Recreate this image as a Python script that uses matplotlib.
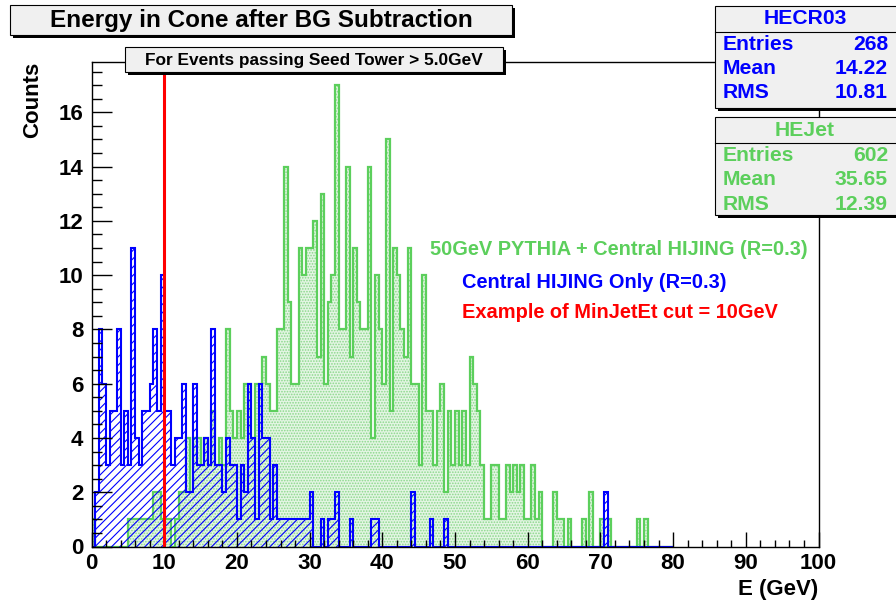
import numpy as np
import matplotlib

matplotlib.use("Agg")

import matplotlib.pyplot as plt
from matplotlib.patches import Rectangle

plt.rcParams["font.family"] = ["Liberation Sans", "DejaVu Sans"]
plt.rcParams["font.weight"] = "bold"
plt.rcParams["hatch.linewidth"] = 0.8

# ----- Histogram contents (0.5 GeV bins, 0 - 80 GeV) -----
bin_width = 0.5
n_bins = 160

# Central HIJING only (R=0.3)
hecr03 = [
    0, 2, 8, 6, 3, 5, 5, 8, 3, 5,
    3, 11, 4, 3, 5, 5, 6, 8, 5, 10,
    5, 5, 3, 4, 4, 6, 2, 2, 6, 3,
    3, 4, 3, 8, 3, 3, 2, 4, 3, 3,
    1, 3, 2, 6, 4, 1, 6, 4, 4, 1,
    3, 1, 1, 1, 1, 1, 1, 1, 1, 1,
    2, 0, 0, 1, 0, 1, 1, 2, 0, 0,
    0, 1, 0, 0, 0, 0, 0, 1, 1, 0,
    0, 0, 0, 0, 0, 0, 0, 0, 2, 0,
    0, 0, 0, 1, 0, 0, 0, 1, 0, 0,
    0, 0, 0, 0, 0, 0, 0, 0, 0, 0,
    0, 0, 0, 0, 0, 0, 0, 0, 0, 0,
    0, 0, 0, 0, 0, 0, 0, 0, 0, 0,
    0, 0, 0, 0, 0, 0, 0, 0, 0, 0,
    0, 2, 0, 0, 0, 0, 0, 0, 0, 0,
    0, 0, 0, 0, 0, 0, 0, 0, 0, 0,
]

# 50 GeV PYTHIA jet embedded in central HIJING (R=0.3)
hejet = [
    1, 0, 0, 0, 0, 0, 0, 0, 0, 0,
    1, 1, 1, 1, 1, 1, 1, 2, 2, 1,
    1, 1, 0, 1, 2, 2, 4, 2, 4, 4,
    3, 4, 3, 5, 3, 4, 3, 8, 5, 4,
    5, 4, 6, 6, 4, 6, 6, 7, 6, 5,
    5, 8, 8, 14, 9, 6, 6, 11, 10, 11,
    11, 12, 7, 13, 6, 9, 10, 17, 8, 8,
    14, 7, 11, 9, 8, 8, 14, 4, 10, 8,
    6, 15, 5, 11, 10, 8, 7, 11, 6, 6,
    3, 10, 5, 5, 3, 5, 6, 2, 5, 3,
    5, 3, 5, 3, 7, 6, 5, 3, 1, 1,
    3, 3, 1, 1, 3, 2, 3, 2, 3, 1,
    1, 3, 1, 2, 0, 0, 0, 2, 1, 1,
    0, 1, 0, 0, 0, 1, 0, 2, 0, 0,
    1, 0, 1, 0, 0, 0, 0, 0, 0, 0,
    1, 0, 1, 0, 0, 0, 0, 0, 0, 0,
]

# stats box entries: Entries, Mean, RMS
hecr03_stats = ["268", "14.22", "10.81"]
hejet_stats = ["602", "35.65", "12.39"]
stat_names = ["Entries", "Mean", "RMS"]

min_jet_et = 10.0  # example cut (GeV)

BLUE = "#0000ff"
GREEN = "#5ccf5c"
RED = "#ff0000"
PAVE = "#f0f0f0"

W, H = 896, 602
edges = np.arange(n_bins + 1) * bin_width


def fx(x):
    return x / W


def fy(y):
    return 1 - y / H


fig = plt.figure(figsize=(W / 100, H / 100), dpi=100)
ax = fig.add_axes([fx(91.5), fy(546.5), 727 / W, 484.5 / H])

# ----- Histograms -----
ax.stairs(hejet, edges, fill=True, facecolor="#e3f5e3", edgecolor="#8ad88a",
          hatch="......", linewidth=0)
ax.stairs(hejet, edges, color=GREEN, linewidth=1.6)
ax.stairs(hecr03, edges, fill=True, facecolor="none", edgecolor=BLUE,
          hatch="////", linewidth=0)
ax.stairs(hecr03, edges, color=BLUE, linewidth=1.5)
ax.axvline(min_jet_et, color=RED, linewidth=2.2)

ax.set_xlim(0, 100)
ax.set_ylim(0, 17.85)
ax.set_xticks(np.arange(0, 101, 10))
ax.set_xticks(np.arange(0, 101, 2), minor=True)
ax.set_yticks(np.arange(0, 17, 2))
ax.set_yticks(np.arange(0, 17.8, 0.5), minor=True)
ax.tick_params(axis="both", which="both", direction="in", top=False, right=False,
               labelsize=16, width=1)
ax.tick_params(axis="x", which="major", length=10.5, pad=5)
ax.tick_params(axis="x", which="minor", length=5)
ax.tick_params(axis="y", which="major", length=14.5, pad=6)
ax.tick_params(axis="y", which="minor", length=7)
for lab in ax.get_xticklabels() + ax.get_yticklabels():
    lab.set_fontweight("bold")
for sp in ax.spines.values():
    sp.set_linewidth(1)

fig.text(fx(818), fy(590), "E (GeV)", ha="right", va="center", fontsize=16)
fig.text(fx(33), fy(100), "Counts", ha="center", va="center", fontsize=16,
         rotation=90)

# ----- Legend-like labels -----
fig.text(fx(430), fy(250), "50GeV PYTHIA + Central HIJING (R=0.3)",
         color=GREEN, fontsize=14.4, va="center")
fig.text(fx(462), fy(282), "Central HIJING Only (R=0.3)",
         color=BLUE, fontsize=14.4, va="center")
fig.text(fx(462), fy(312), "Example of MinJetEt cut = %dGeV" % min_jet_et,
         color=RED, fontsize=14.4, va="center")


# ----- Paves with drop shadow -----
def pave(x0, y0, x1, y1, shadow=3):
    w, h = (x1 - x0) / W, (y1 - y0) / H
    fig.add_artist(Rectangle((fx(x0 + shadow), fy(y1 + shadow)), w, h,
                             transform=fig.transFigure, facecolor="black",
                             edgecolor="none", zorder=4))
    fig.add_artist(Rectangle((fx(x0), fy(y1)), w, h, transform=fig.transFigure,
                             facecolor=PAVE, edgecolor="black", linewidth=0.8,
                             zorder=5))


pave(10, 5, 512, 35)
fig.text(fx(261), fy(20), "Energy in Cone after BG Subtraction",
         ha="center", va="center", fontsize=17.5, zorder=6)

pave(125, 47, 503, 72)
fig.text(fx(314), fy(60), "For Events passing Seed Tower > 5.0GeV",
         ha="center", va="center", fontsize=12.4, zorder=6)


def stats_box(top, bottom, name, values, color):
    pave(715, top, 905, bottom)
    line_y = top + 26
    fig.add_artist(plt.Line2D([fx(715), fx(905)], [fy(line_y), fy(line_y)],
                              transform=fig.transFigure, color="black",
                              linewidth=0.8, zorder=6))
    fig.text(fx(805), fy(top + 13), name, ha="center", va="center",
             color=color, fontsize=15.2, zorder=6)
    for k, (label, val) in enumerate(zip(stat_names, values)):
        yy = top + 38 + 24.5 * k
        fig.text(fx(723), fy(yy), label, ha="left", va="center",
                 color=color, fontsize=15.2, zorder=6)
        fig.text(fx(888), fy(yy), val, ha="right", va="center",
                 color=color, fontsize=15.2, zorder=6)


stats_box(6, 108, "HECR03", hecr03_stats, BLUE)
stats_box(117, 215, "HEJet", hejet_stats, GREEN)

fig.savefig("out.png", dpi=100, facecolor="white")
